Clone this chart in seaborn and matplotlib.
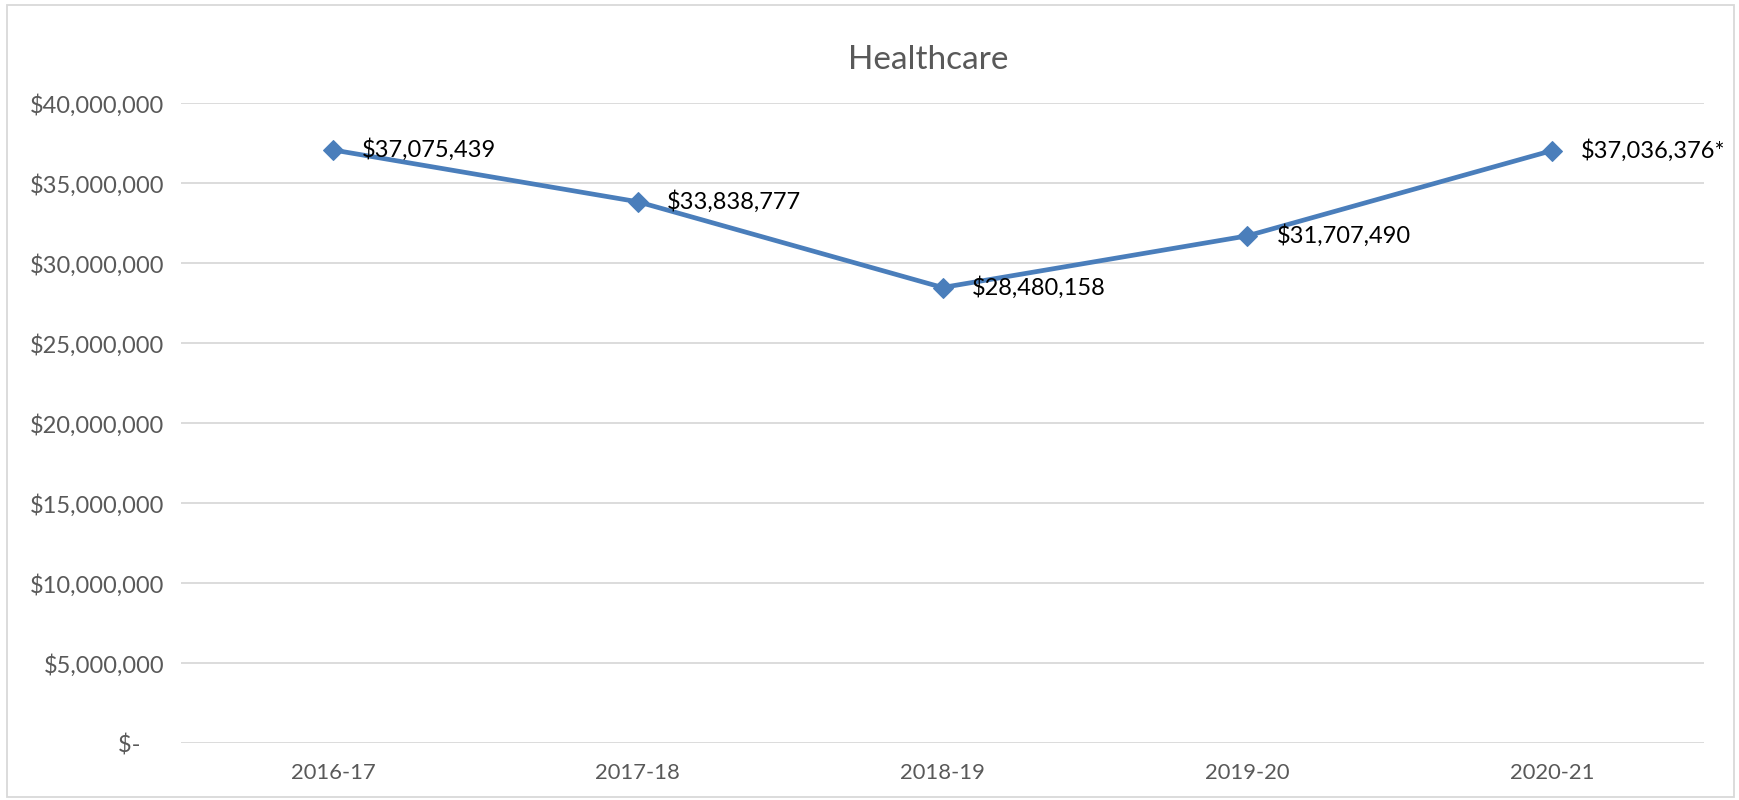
import matplotlib
matplotlib.use("Agg")
import matplotlib.pyplot as plt
import seaborn as sns
import pandas as pd
from matplotlib.patches import Rectangle
from matplotlib.ticker import FuncFormatter

# Data
years = ["2016-17", "2017-18", "2018-19", "2019-20", "2020-21"]
spending = [37075439, 33838777, 28480158, 31707490, 37036376]
point_labels = ["$37,075,439", "$33,838,777", "$28,480,158", "$31,707,490", "$37,036,376*"]

df = pd.DataFrame({"Year": years, "Spending": spending})

sns.set_style("white")
plt.rcParams['font.family'] = ['Lato', 'DejaVu Sans']

fig = plt.figure(figsize=(17.39, 8), dpi=100)
ax = fig.add_axes([0.104, 0.071, 0.876, 0.800])

sns.lineplot(data=df, x="Year", y="Spending", ax=ax, color="#4A7EBB",
             linewidth=3.4, marker="D", markersize=10,
             markeredgecolor="#4A7EBB", markerfacecolor="#4A7EBB")

# data labels to the right of each point
for i, (val, lab) in enumerate(zip(spending, point_labels)):
    ax.annotate(lab, (i, val), xytext=(21, 0), textcoords="offset points",
                ha="left", va="center", fontsize=17, color="black")

ax.set_xlim(-0.5, len(years) - 0.5)
ax.set_ylim(0, 40000000)
ax.set_yticks(range(0, 40000001, 5000000))


def money(v, pos):
    if v == 0:
        return "$-    "
    return "${:,.0f}".format(v)


ax.yaxis.set_major_formatter(FuncFormatter(money))
ax.grid(axis="y", color="#D9D9D9", linewidth=1.3)
ax.set_axisbelow(True)
for s in ax.spines.values():
    s.set_visible(False)
ax.tick_params(axis="both", length=0, labelcolor="#595959")
ax.tick_params(axis="y", pad=12, labelsize=17)
ax.tick_params(axis="x", pad=14, labelsize=15.8)
ax.set_xlabel("")
ax.set_ylabel("")

fig.text(928 / 1739, 1 - 60 / 800, "Healthcare", ha="center", va="center",
         fontsize=24, color="#595959")

# chart border
fig.patches.append(Rectangle((0.004, 0.004), 0.993, 0.99, transform=fig.transFigure,
                             fill=False, edgecolor="#D9D9D9", linewidth=1.3))

fig.savefig("out.png", dpi=100)
